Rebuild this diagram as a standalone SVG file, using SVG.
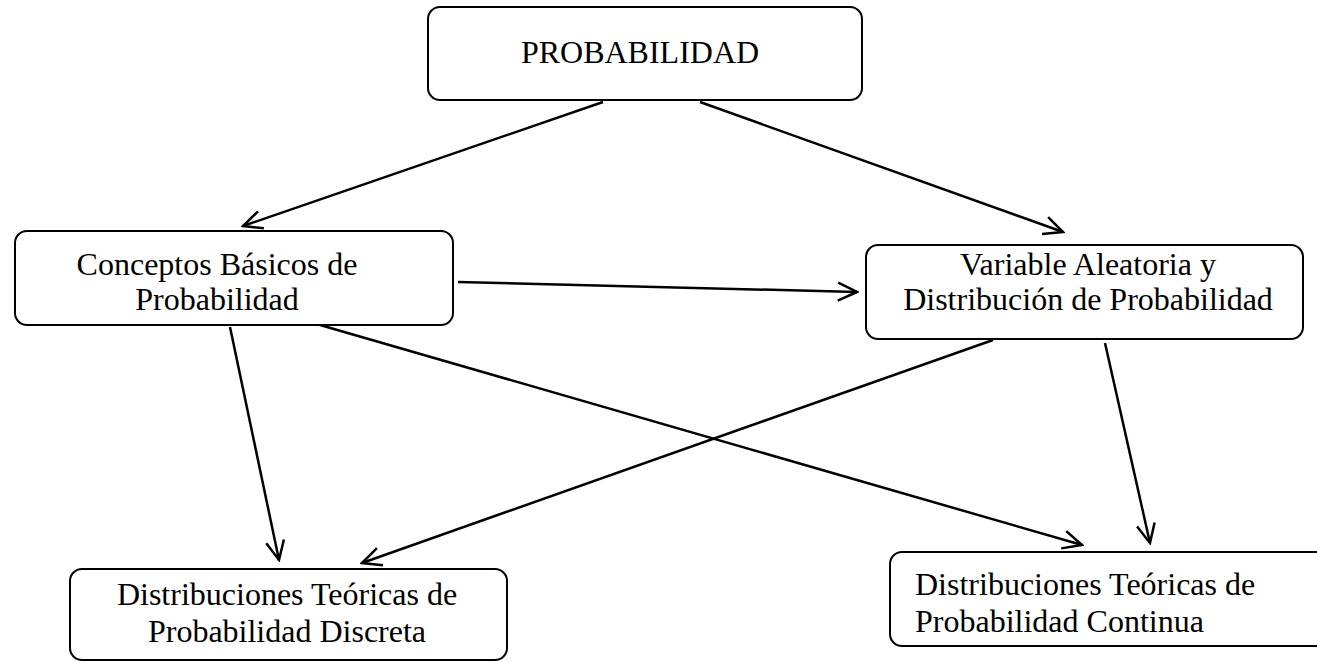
<svg xmlns="http://www.w3.org/2000/svg" width="1317" height="662" viewBox="0 0 1317 662">
<style>
.box{fill:#fff;stroke:#000;stroke-width:2}
.t{font-family:"Liberation Serif","Times New Roman",serif;font-size:32px;fill:#000}
.c{text-anchor:middle}
.edge{stroke:#000;stroke-width:2.5;fill:none;marker-end:url(#ah)}
</style>
<defs>
<marker id="ah" viewBox="-22 -12 24 24" refX="0" refY="0" markerWidth="24" markerHeight="24" markerUnits="userSpaceOnUse" orient="auto">
<path d="M-19,-9 L0,0 L-19,9" fill="none" stroke="#000" stroke-width="2.5"/>
</marker>
</defs>
<rect width="1317" height="662" fill="#fff"/>
<g id="n-probabilidad">
<rect class="box" x="428" y="7" width="434" height="93" rx="12"/>
<text class="t c" x="640" y="63">PROBABILIDAD</text>
</g>
<g id="n-conceptos">
<rect class="box" x="15" y="231" width="438" height="94" rx="12"/>
<text class="t c" x="217" y="275">Conceptos Básicos de</text>
<text class="t c" x="217" y="310">Probabilidad</text>
</g>
<g id="n-variable">
<rect class="box" x="866" y="245" width="437" height="94" rx="12"/>
<text class="t c" x="1088" y="275">Variable Aleatoria y</text>
<text class="t c" x="1088" y="310">Distribución de Probabilidad</text>
</g>
<g id="n-discreta">
<rect class="box" x="70" y="569" width="437" height="91" rx="12"/>
<text class="t c" x="287" y="605">Distribuciones Teóricas de</text>
<text class="t c" x="287" y="642">Probabilidad Discreta</text>
</g>
<g id="n-continua">
<rect class="box" x="890" y="552" width="450" height="94" rx="12"/>
<text class="t" x="915" y="595">Distribuciones Teóricas de</text>
<text class="t" x="915" y="632">Probabilidad Continua</text>
</g>
<g id="connectors">
<line class="edge" x1="603" y1="102" x2="243" y2="226"/>
<line class="edge" x1="700" y1="102" x2="1063" y2="232"/>
<line class="edge" x1="458" y1="282" x2="857" y2="292"/>
<line class="edge" x1="230" y1="327" x2="279" y2="560"/>
<line class="edge" x1="320" y1="325" x2="1082" y2="545"/>
<line class="edge" x1="993" y1="340" x2="362" y2="563"/>
<line class="edge" x1="1105" y1="343" x2="1150" y2="543"/>
</g>
</svg>
